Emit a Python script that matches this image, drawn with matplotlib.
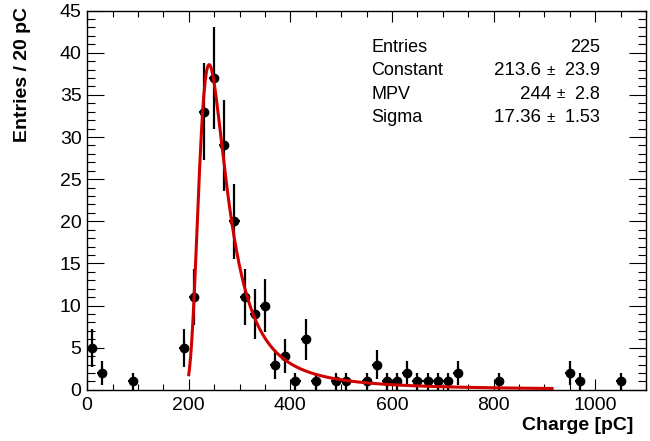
import numpy as np
import matplotlib
matplotlib.use('Agg')
import matplotlib.pyplot as plt
from matplotlib.ticker import MultipleLocator

plt.rcParams['font.family'] = ['Liberation Sans', 'DejaVu Sans']

# histogram content, 20 pC bins (bin centres)
bin_centres = [10, 30, 90, 190, 210, 230, 250, 270, 290, 310, 330, 350, 370, 390,
               410, 430, 450, 490, 510, 550, 570, 590, 610, 630, 650, 670, 690,
               710, 730, 810, 950, 970, 1050]
counts = [5, 2, 1, 5, 11, 33, 37, 29, 20, 11, 9, 10, 3, 4,
          1, 6, 1, 1, 1, 1, 3, 1, 1, 2, 1, 1, 1,
          1, 2, 1, 2, 1, 1]
bin_width = 20

# landau fit result
n_entries = 225
fit_const, fit_const_err = 213.6, 23.9
fit_mpv, fit_mpv_err = 244, 2.8
fit_sigma, fit_sigma_err = 17.36, 1.53
fit_range = (200, 915)


def landau_pdf(v):
    # same rational approximation as ROOT::Math::landau_pdf (CERNLIB denlan)
    p1 = [0.4259894875, -0.1249762550, 0.03984243700, -0.006298287635, 0.001511162253]
    q1 = [1.0, -0.3388260629, 0.09594393323, -0.01608042283, 0.003778942063]
    p2 = [0.1788541609, 0.1173957403, 0.01488850518, -0.001394989411, 0.0001283617211]
    q2 = [1.0, 0.7428795082, 0.3153932961, 0.06694219548, 0.008790609714]
    p3 = [0.1788544503, 0.09359161662, 0.006325387654, 0.00006611667319, -0.000002031049101]
    q3 = [1.0, 0.6097809921, 0.2560616665, 0.04746722384, 0.006957301675]
    p4 = [0.9874054407, 118.6723273, 849.2794360, -743.7792444, 427.0262186]
    q4 = [1.0, 106.8615961, 337.6496214, 2016.712389, 1597.063511]
    p5 = [1.003675074, 167.5702434, 4789.711289, 21217.86767, -22324.94910]
    q5 = [1.0, 156.9424537, 3745.310488, 9834.698876, 66924.28357]
    a1 = [0.04166666667, -0.01996527778, 0.02709538966]

    def rat(p, q, t):
        num = p[0] + (p[1] + (p[2] + (p[3] + p[4] * t) * t) * t) * t
        den = q[0] + (q[1] + (q[2] + (q[3] + q[4] * t) * t) * t) * t
        return num / den

    out = []
    for x in np.atleast_1d(v):
        if x < -5.5:
            u = np.exp(x + 1.0)
            if u < 1e-10:
                out.append(0.0)
                continue
            d = 0.3989422803 * (np.exp(-1 / u) / np.sqrt(u)) * (1 + (a1[0] + (a1[1] + a1[2] * u) * u) * u)
        elif x < -1:
            u = np.exp(-x - 1)
            d = np.exp(-u) * np.sqrt(u) * rat(p1, q1, x)
        elif x < 1:
            d = rat(p2, q2, x)
        elif x < 5:
            d = rat(p3, q3, x)
        elif x < 12:
            u = 1 / x
            d = u * u * rat(p4, q4, u)
        else:
            u = 1 / x
            d = u * u * rat(p5, q5, u)
        out.append(d)
    return np.array(out)


fig = plt.figure(figsize=(6.5, 4.41), dpi=100)
ax = fig.add_axes([0.134, 0.116, 0.860, 0.860])

x = np.array(bin_centres, dtype=float)
y = np.array(counts, dtype=float)
ax.errorbar(x, y, yerr=np.sqrt(y), xerr=bin_width / 2, fmt='o', color='black',
            markersize=6, elinewidth=1.6, capsize=0, zorder=3)

xf = np.linspace(fit_range[0], fit_range[1], 600)
yf = fit_const * landau_pdf((xf - fit_mpv) / fit_sigma)
ax.plot(xf, yf, color='#d10000', lw=2.2, zorder=4)

ax.set_xlim(0, 1100)
ax.set_ylim(0, 45)
ax.xaxis.set_major_locator(MultipleLocator(200))
ax.xaxis.set_minor_locator(MultipleLocator(50))
ax.yaxis.set_major_locator(MultipleLocator(5))
ax.yaxis.set_minor_locator(MultipleLocator(1))
ax.tick_params(axis='both', which='both', direction='in', top=True, right=True,
               labelsize=14, width=0.8)
ax.tick_params(axis='x', which='major', length=8, pad=5)
ax.tick_params(axis='x', which='minor', length=4)
ax.tick_params(axis='y', which='major', length=12, pad=4)
ax.tick_params(axis='y', which='minor', length=6)
for s in ax.spines.values():
    s.set_linewidth(1.0)

fig.text(0.974, 0.036, 'Charge [pC]', ha='right', va='center',
         fontsize=14, fontweight='bold')
fig.text(0.034, 0.985, 'Entries / 20 pC', ha='center', va='top',
         rotation=90, fontsize=14, fontweight='bold')

# stats box
rows = [
    ('Entries', f'{n_entries}', None),
    ('Constant', f'{fit_const:.1f}', f'{fit_const_err:.1f}'),
    ('MPV', f'{fit_mpv}', f'{fit_mpv_err:.1f}'),
    ('Sigma', f'{fit_sigma:.2f}', f'{fit_sigma_err:.2f}'),
]
x_left, x_right = 0.571, 0.923
y0, dy = 0.893, 0.0535
for i, (name, val, err) in enumerate(rows):
    yy = y0 - i * dy
    fig.text(x_left, yy, name, ha='left', va='center', fontsize=13)
    if err is None:
        fig.text(x_right, yy, val, ha='right', va='center', fontsize=13)
        continue
    t_err = fig.text(x_right, yy, '  ' + err, ha='right', va='center', fontsize=13)
    t_pm = ax.annotate('\u00b1', xy=(0, 0.5), xycoords=t_err, ha='right',
                       va='center', fontsize=11)
    ax.annotate(val + ' ', xy=(0, 0.5), xycoords=t_pm, ha='right',
                va='center', fontsize=13.5)

fig.savefig('out.png', dpi=100)
